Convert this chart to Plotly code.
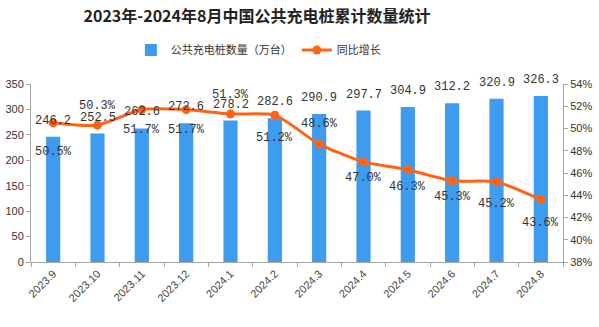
import plotly.graph_objects as go

months = ["2023.9", "2023.10", "2023.11", "2023.12", "2024.1", "2024.2",
          "2024.3", "2024.4", "2024.5", "2024.6", "2024.7", "2024.8"]
piles = [246.2, 252.5, 262.6, 272.6, 278.2, 282.6, 290.9, 297.7, 304.9, 312.2, 320.9, 326.3]
growth = [50.5, 50.3, 51.7, 51.7, 51.3, 51.2, 48.6, 47.0, 46.3, 45.3, 45.2, 43.6]

# label placement offsets (pixels) for the growth labels
growth_shift = [-29, 19, -20, -20, 19, -23, 20, -16, -17, -16, -22, -23]

BAR = "#3D9BF0"
LINE = "#FF6414"
CJK = "Noto Sans CJK SC"
MONO = "Liberation Mono"

fig = go.Figure()
fig.add_trace(go.Bar(
    x=months, y=piles, name="公共充电桩数量（万台）",
    marker=dict(color=BAR, line=dict(width=0)),
    yaxis="y",
))
fig.add_trace(go.Scatter(
    x=months, y=growth, name="同比增长", mode="lines+markers",
    line=dict(color=LINE, width=3, shape="spline", smoothing=0.6),
    marker=dict(color=LINE, size=9),
    yaxis="y2",
))

ann = []
for i, v in enumerate(piles):
    ann.append(dict(x=i, y=v, xref="x", yref="y", text=f"{v:.1f}", showarrow=False,
                    yshift=16, font=dict(family=MONO, size=12, color="#333333")))
for i, (g, s) in enumerate(zip(growth, growth_shift)):
    ann.append(dict(x=i, y=g, xref="x", yref="y2", text=f"{g:.1f}%", showarrow=False,
                    yshift=s, font=dict(family=MONO, size=12, color="#333333")))

fig.update_layout(
    width=599, height=327,
    margin=dict(l=31, r=36, t=84, b=65),
    paper_bgcolor="white", plot_bgcolor="white",
    title=dict(text="<b>2023年-2024年8月中国公共充电桩累计数量统计</b>",
               x=257 / 599, xanchor="center", y=1 - 16 / 327, yanchor="middle",
               font=dict(family=CJK, size=16, color="#222222")),
    legend=dict(orientation="h", x=256 / 599, xanchor="center", y=1 - 50 / 327,
                yref="container", yanchor="middle",
                font=dict(family=CJK, size=11, color="#333333"),
                itemwidth=30, tracegroupgap=0),
    bargap=0.68,
    showlegend=True,
    xaxis=dict(type="category", range=[-0.5, len(months) - 0.5], automargin=False,
               showline=True, linecolor="#A6A6A6", linewidth=1,
               ticks="outside", tickson="boundaries", ticklen=4, tickcolor="#A6A6A6",
               tickangle=-45, tickfont=dict(family="Liberation Sans", size=11, color="#444444"),
               showgrid=False),
    yaxis=dict(range=[0, 350], dtick=50, showline=True, linecolor="#A6A6A6", automargin=False,
               ticks="outside", ticklen=4, tickcolor="#A6A6A6", showgrid=False, zeroline=False,
               tickfont=dict(family="Liberation Sans", size=11, color="#333333")),
    yaxis2=dict(range=[38, 54], dtick=2, overlaying="y", side="right", ticksuffix="%",
                showline=True, linecolor="#A6A6A6", ticks="outside", ticklen=4, automargin=False,
                tickcolor="#A6A6A6", showgrid=False, zeroline=False,
                tickfont=dict(family="Liberation Sans", size=11, color="#333333")),
    annotations=ann,
)

fig.write_html("out.html")
